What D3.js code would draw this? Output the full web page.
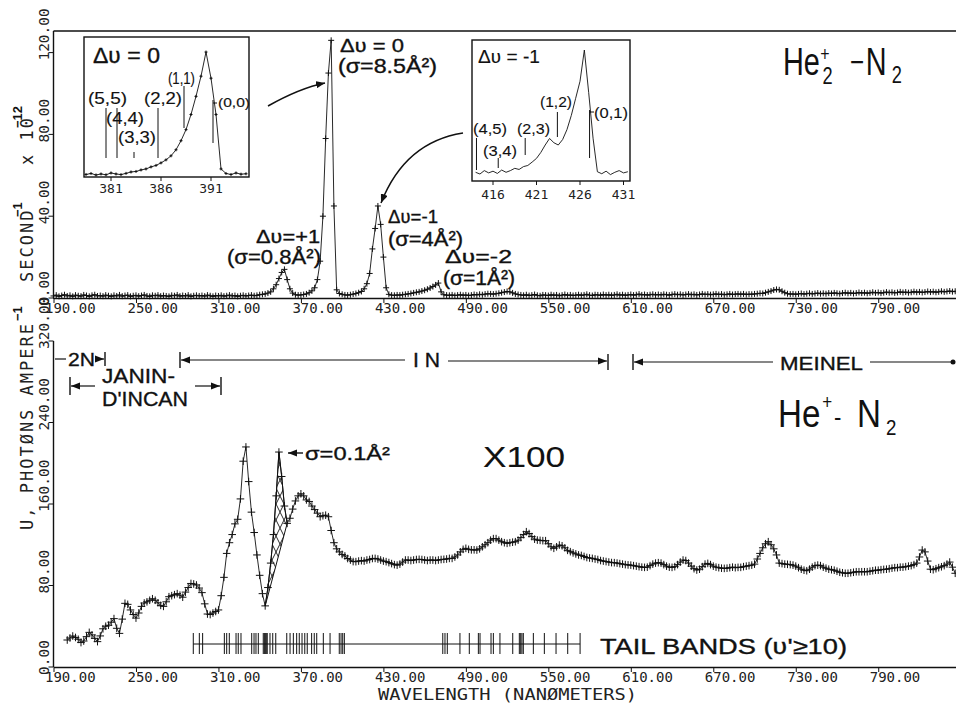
<!DOCTYPE html>
<html>
<head>
<meta charset="utf-8">
<script src="https://cdn.jsdelivr.net/npm/d3@7/dist/d3.min.js"></script>
<style>
  body { margin: 0; background: #fff; }
  svg { display: block; }
  .plt { font-family: "DejaVu Sans Mono", monospace; fill: #222; }
  .lab { font-family: "Liberation Sans", Arial, sans-serif; fill: #111; stroke: #111; stroke-width: 0.35; }
  .big { font-family: "Liberation Sans", Arial, sans-serif; fill: #111; }
</style>
</head>
<body>
<svg id="chart" width="956" height="704"></svg>
<script>
// sampling of the two spectra (nm)
var topStart = 190, botStart = 200, step = 2;

// He2+ - N2, photons/ampere/second x10^-12
var topVals = [
  1.0,1.4,0.8,1.2,1.6,1.0,1.3,0.8,1.4,1.1,
  0.9,1.5,1.2,0.8,1.3,1.6,1.0,1.2,0.9,1.4,
  1.1,0.8,1.3,1.0,1.5,0.9,1.2,1.4,0.8,1.1,
  1.3,0.9,1.2,1.5,1.0,0.8,1.3,1.1,1.4,0.9,
  1.2,1.0,0.8,1.3,1.1,1.5,0.9,1.2,1.0,1.4,
  0.8,1.1,1.3,1.0,1.2,0.9,1.4,1.1,0.8,1.2,
  1.0,1.3,0.9,1.1,1.4,1.0,1.2,0.8,1.1,1.3,
  1.0,1.2,1.4,1.1,1.3,1.6,1.8,2.0,2.4,3.0,
  4.5,6.5,9.5,12.5,14.0,9.0,4.5,2.4,1.6,1.4,
  1.5,1.7,2.0,2.6,3.5,5.0,9.0,18,40,78,
  110,126,45,4.0,2.2,1.8,1.5,1.4,1.6,1.9,
  2.2,2.6,3.2,4.5,7.0,12,24,34,45,36,
  20,5.0,1.8,1.4,1.3,1.5,1.4,1.6,1.8,2.0,
  2.2,2.5,2.8,3.0,3.4,3.8,4.3,4.9,5.6,6.4,
  7.3,3.0,1.6,1.4,1.3,1.5,1.2,1.4,1.6,1.3,
  1.5,1.2,1.4,1.7,1.5,1.8,1.6,1.9,2.1,2.0,
  1.9,2.1,2.3,2.6,2.9,3.2,3.0,2.5,2.0,1.7,
  1.5,1.3,1.6,1.2,1.4,1.7,1.3,1.1,1.5,1.4,
  1.2,1.6,1.3,1.5,1.1,1.4,1.7,1.3,1.5,1.2,
  1.4,1.6,1.3,1.5,1.8,1.4,1.2,1.6,1.5,1.3,
  1.7,1.4,1.6,1.3,1.5,1.8,1.4,1.6,1.3,1.5,
  1.7,1.4,1.6,1.9,1.5,1.7,1.4,1.6,1.8,1.5,
  1.7,1.5,1.8,1.6,1.4,1.7,1.9,1.6,1.8,1.5,
  1.7,1.9,1.6,1.8,1.5,1.7,2.0,1.7,1.9,1.6,
  1.8,2.0,1.7,1.9,1.6,1.8,2.0,1.7,1.9,2.0,
  1.8,2.0,1.7,1.9,1.8,2.0,2.1,2.3,2.2,2.6,
  3.0,3.4,3.9,4.2,4.0,3.3,2.6,2.1,1.9,2.0,
  1.8,2.0,2.2,1.9,2.1,2.3,2.0,2.2,2.4,2.1,
  2.3,2.1,2.4,2.2,2.5,2.3,2.1,2.4,2.6,2.3,
  2.5,2.2,2.4,2.7,2.4,2.6,2.3,2.5,2.8,2.5,
  2.7,2.4,2.6,2.9,2.6,2.8,2.5,2.7,3.0,2.7,
  2.9,2.6,2.8,3.1,2.8,3.0,2.7,2.9,3.2,2.9,
  3.1,2.8,3.0,3.3,3.0,3.2,3.4,3.1,3.3
];

// He+ - N2, x100
var botVals = [
  26.5,28.5,30.4,29,27.2,24,25.5,29.8,34,31.5,
  28.1,24.9,30.5,37.5,40,41,44,47.5,38,33,
  47,62.5,61.5,56,51.5,48,53,59.5,62.8,64,
  65.5,67,65.5,63,60.5,59.5,64,69,70,71,
  72,70.5,68.5,73.5,78,82,81.5,80.5,77.5,73,
  62,52,51.5,53,54.5,56,70,88,111.5,122,
  130,140.5,145,165,202,216,182,152,132,110,
  90,72,60,78,102,130,168,211,187,158,
  141,146,155,163,168,170,168,164,162.5,158,
  154.5,151,147.5,148.5,149,147.5,134,122,116,113,
  110.5,109,106.5,105,103.5,103.4,104,104.4,104,105,
  105.5,106.5,106.6,106,105,104,103.4,102.5,101.5,100.5,
  100,101,103,105,105,104.5,105,105.5,105.7,105.5,
  105,104.5,105,105,104.5,105,105.5,105.7,106,106.6,
  106.6,108,110,113,115.5,116.5,115.5,115,115,114.8,
  116,118,120,122,124.5,126,126,124.5,123,122,
  121.4,122,122.5,123,124.5,127,130,132.8,131,128,
  125.5,124.6,124.3,124,124,121,118,116.5,118,119.7,
  119,117,114.5,113.2,112,111,110,109.5,108.5,107.5,
  107,106.6,106,105.5,104.5,104,103.5,103,102.5,102.4,
  102,101.5,101,100.5,100.2,100,99.5,99,98.5,98,
  97.8,98,99.5,101,102,102.4,102,100.5,99,98,
  97.8,98.5,100.5,103,105,104.5,102,99,96.5,95.2,
  96,98.5,101,101.7,100.5,99,98,97.5,97,96.8,
  97,97.5,98,97.5,97.8,97.8,98.5,99,99.5,100,
  101,106,111.5,117,121,123,120,116,110,102,
  101.5,101,100.8,100.5,100,99,97.5,96,95,94.5,
  96,98,99.5,100,99.5,98,97,96,95.5,95,
  94,93,92.5,92,92,92.5,93,93.5,93.5,93.5,
  93.5,93.5,94,94.5,95,95,95.5,95.8,96,96.5,
  97,97.5,97.5,98,98,98.5,99,99.5,100.5,102,
  108,114.8,113,104,96,95.5,96.5,97.5,98.4,99.5,
  101,103,98,92
];

// insets, sampled every 0.5 nm
var ins1Start = 378.5, ins2Start = 414, insStep = 0.5;
var ins1Vals = [
  2.5,3.5,2.0,3.0,2.2,4.0,3.0,2.4,3.6,5.0,
  5.5,7.0,8.0,10,11.5,14,17,21,27,36,
  47,62,80,100,124,98,62,8,3.5,2.5,
  4.0,2.8,3.2
];
var ins2Vals = [
  2.0,1.4,2.6,1.8,2.4,1.6,2.8,2.0,2.6,3.4,
  3.0,4.0,4.4,5.6,6.9,9.0,11.6,13.9,12.4,11.6,
  13.5,17,22,28,34,45,30,14,2.2,1.5,
  2.4,1.2,2.0,2.6,1.8,2.2
];

// band heads marked in the insets
var ins1Heads = [380.5, 381.6, 383.3, 385.7, 388.3, 391.2];
var ins1HeadNames = ["(5,5)", "(4,4)", "(3,3)", "(2,2)", "(1,1)", "(0,0)"];
var ins2Heads = [414.1, 416.6, 419.7, 423.4, 427.1];
var ins2HeadNames = ["(4,5)", "(3,4)", "(2,3)", "(1,2)", "(0,1)"];

// tail bands (v' >= 10), nm
var tailBands = [291.7,296.1,298.5,314.3,316,317.9,322.8,324.4,326.4,334.2,
  335.9,337.3,339,342.6,343.4,344.1,344.8,345.5,347.5,349.5,351.7,359.7,
  362.1,364.5,366.9,368.8,370.8,372.8,374.6,377.8,379.7,381.5,386.3,391.2,
  397.9,399.2,400.4,401.6,473.2,474.8,476.5,485.7,492.5,499.1,500.3,508.3,
  510,514.8,524.1,528.9,529.9,530.8,531.8,539.1,547.1,555.6,564.1,573.1];

var xTicks = [190, 250, 310, 370, 430, 490, 550, 610, 670, 730, 790];
var topYTicks = [0, 40, 80, 120];
var botYTicks = [0, 80, 160, 240, 320];
var ins1Ticks = [381, 386, 391];
var ins2Ticks = [416, 421, 426, 431];
var hatchRange = [344, 360];

var svg = d3.select("#chart");
svg.append("rect").attr("width", 956).attr("height", 704).attr("fill", "#fff");

var defs = svg.append("defs");
defs.append("marker")
    .attr("id", "ah")
    .attr("viewBox", "0 0 10 8")
    .attr("refX", 10).attr("refY", 4)
    .attr("markerWidth", 9).attr("markerHeight", 7.2)
    .attr("markerUnits", "userSpaceOnUse")
    .attr("orient", "auto")
  .append("path").attr("d", "M0,0L10,4L0,8z").attr("fill", "#111");
var pat = defs.append("pattern")
    .attr("id", "xhatch")
    .attr("patternUnits", "userSpaceOnUse")
    .attr("width", 8).attr("height", 16);
pat.append("path").attr("d", "M0,0L8,16M8,0L0,16M-4,8L0,16M12,8L8,16")
    .attr("stroke", "#111").attr("stroke-width", 0.9);

function series(start, st, vals) {
  return vals.map(function(v, i) { return {w: start + i * st, v: v}; });
}
var topData = series(topStart, step, topVals);
var botData = series(botStart, step, botVals);
var ins1Data = series(ins1Start, insStep, ins1Vals);
var ins2Data = series(ins2Start, insStep, ins2Vals);

var x = d3.scaleLinear().domain([190, 850]).range([53.5, 960.7]);
var yTop = d3.scaleLinear().domain([0, 120]).range([298, 52.6]);
var yBot = d3.scaleLinear().domain([0, 320]).range([667, 341]);

function plus(px, py, s) {
  return "M" + (px - s) + "," + py + "h" + (2 * s) + "M" + px + "," + (py - s) + "v" + (2 * s);
}

function drawCurve(g, data, xs, ys, size, width) {
  var line = d3.line().x(function(d) { return xs(d.w); }).y(function(d) { return ys(d.v); });
  g.append("path").attr("d", line(data)).attr("fill", "none")
    .attr("stroke", "#111").attr("stroke-width", width);
  if (size > 0) {
    g.append("path")
      .attr("d", data.map(function(d) { return plus(xs(d.w), ys(d.v), size); }).join(""))
      .attr("fill", "none").attr("stroke", "#111").attr("stroke-width", 1);
  }
}

function label(g, px, py, str, size, w, anchor, cls) {
  var t = g.append("text").attr("class", cls || "lab")
    .attr("x", px).attr("y", py)
    .attr("font-size", size)
    .attr("text-anchor", anchor || "start")
    .text(str);
  if (w) t.attr("textLength", w).attr("lengthAdjust", "spacingAndGlyphs");
  return t;
}

function seg(g, x1, y1, x2, y2, w, arrow) {
  var l = g.append("line").attr("x1", x1).attr("y1", y1).attr("x2", x2).attr("y2", y2)
    .attr("stroke", "#111").attr("stroke-width", w || 1.2);
  if (arrow) l.attr("marker-end", "url(#ah)");
  return l;
}

// chemical formula built from pieces inside one text, condensed
function formula(px, py, sx, pieces) {
  var t = svg.append("text").attr("class", "big")
    .attr("transform", "translate(" + px + "," + py + ") scale(" + sx + ",1)");
  pieces.forEach(function(p) {
    t.append("tspan").attr("x", p[0]).attr("y", p[1]).attr("font-size", p[2]).text(p[3]);
  });
}

// ---- x axes
function xAxis(yPos) {
  var g = svg.append("g").attr("transform", "translate(0," + yPos + ")")
    .call(d3.axisBottom(x).tickValues(xTicks).tickSize(5).tickSizeOuter(0)
      .tickFormat(d3.format(".2f")));
  g.select(".domain").attr("stroke", "#111").attr("stroke-width", 1.4);
  g.selectAll(".tick line").attr("stroke", "#111");
  g.selectAll(".tick text").attr("class", "plt")
    .attr("font-size", 14).attr("text-anchor", "start")
    .attr("x", -9).attr("y", 5).attr("dy", "0.71em")
    .attr("font-family", null).attr("fill", "#222");
  return g;
}
xAxis(298);
xAxis(667);

// ---- y axes (ticks + rotated labels)
function yAxis(ys, ticks, top) {
  seg(svg, 53.5, ys.range()[0], 53.5, top, 1.4);
  ticks.forEach(function(t) {
    seg(svg, 48.5, ys(t), 53.5, ys(t), 1);
    svg.append("text").attr("class", "plt").attr("font-size", 14.5)
      .attr("transform", "translate(49," + (ys(t) + 8) + ") rotate(-90)")
      .text(d3.format(".2f")(t));
  });
}
yAxis(yTop, topYTicks, 31);
yAxis(yBot, botYTicks, 341);
seg(svg, 53.5, 31, 956, 31, 1.4);

// shared y-axis title
var yt = svg.append("g").attr("transform", "translate(33,530) rotate(-90)");
function ytPiece(pos, str, sup) {
  var t = yt.append("text").attr("x", pos).attr("y", sup ? -11 : 0).text(str);
  if (sup) {
    t.attr("font-family", "Liberation Sans, Arial, sans-serif").attr("font-weight", "bold")
      .attr("font-size", 13).attr("fill", "#111");
  } else {
    t.attr("class", "plt").attr("font-size", 17).attr("letter-spacing", 2);
  }
}
ytPiece(0, "U, PHOTØNS AMPERE", false);
ytPiece(209, "−1", true);
ytPiece(248, "SECOND", false);
ytPiece(313, "−1", true);
ytPiece(365, "x 10", false);
ytPiece(402, "−12", true);

label(svg, 378, 700, "WAVELENGTH (NANØMETERS)", 15.5, 259, "start", "plt");

// ---- curves
drawCurve(svg.append("g"), topData, x, yTop, 3, 0.9);

var hatchPts = botData.filter(function(d) { return d.w >= hatchRange[0] && d.w <= hatchRange[1]; });
svg.append("path")
  .attr("d", d3.line().x(function(d) { return x(d.w); }).y(function(d) { return yBot(d.v); })(hatchPts) + "Z")
  .attr("fill", "url(#xhatch)").attr("stroke", "#111").attr("stroke-width", 1);
drawCurve(svg.append("g"), botData, x, yBot, 3.8, 0.9);

// ---- insets
function inset(frame, data, xs, ys, ticks, tickBase, mark) {
  var g = svg.append("g");
  var id = "clip" + frame[0];
  defs.append("clipPath").attr("id", id).append("rect")
    .attr("x", frame[0]).attr("y", frame[1])
    .attr("width", frame[2] - frame[0]).attr("height", frame[3] - frame[1]);
  g.append("rect").attr("x", frame[0]).attr("y", frame[1])
    .attr("width", frame[2] - frame[0]).attr("height", frame[3] - frame[1])
    .attr("fill", "#fff").attr("stroke", "#111").attr("stroke-width", 1.4);
  drawCurve(g.append("g").attr("clip-path", "url(#" + id + ")"), data, xs, ys, mark, 0.9);
  ticks.forEach(function(t) {
    seg(g, xs(t), frame[3], xs(t), frame[3] + 4, 1);
    label(g, xs(t), tickBase, String(t), 13, null, "middle", "plt");
  });
  return g;
}

var xi1 = d3.scaleLinear().domain([381, 391]).range([111, 211]);
var yi1 = d3.scaleLinear().domain([0, 126]).range([177, 50]);
var g1 = inset([84, 37, 249, 177], ins1Data, xi1, yi1, ins1Ticks, 193, 1.5);

var xi2 = d3.scaleLinear().domain([416, 431]).range([493, 623.5]);
var yi2 = d3.scaleLinear().domain([0, 45]).range([178, 50]);
var g2 = inset([472, 40, 630, 181], ins2Data, xi2, yi2, ins2Ticks, 199, 0);

// band-head markers (vertical extents, label spots)
var ins1Spots = [[108, 158, 88, 104, 39], [108, 158, 106, 124, 38], [152, 158, 118, 143, 38],
                 [108, 158, 144, 104, 38], [86, 128, 168, 84, 27], [100, 143, 218, 107, 32]];
ins1Heads.forEach(function(h, i) {
  var s = ins1Spots[i];
  seg(g1, xi1(h), s[0], xi1(h), s[1], 1);
  label(g1, s[2], s[3], ins1HeadNames[i], i === 5 ? 12 : 16, s[4]).style("stroke-width", 0.15);
});
seg(g1, xi1(ins1Heads[5]), 103, 217, 103, 1);
label(g1, 93, 63, "Δʋ = 0", 22, 67);

var ins2Spots = [[138, 170, 473, 134, 34], [158, 168, 483, 156, 34], [138, 155, 517, 134, 33],
                 [112, 137, 540, 107, 32], [110, 158, 594, 118, 34]];
ins2Heads.forEach(function(h, i) {
  var s = ins2Spots[i];
  seg(g2, xi2(h), s[0], xi2(h), s[1], 1);
  label(g2, s[2], s[3], ins2HeadNames[i], 14, s[4]).style("stroke-width", 0.1);
});
seg(g2, xi2(ins2Heads[4]), 112, 594, 112, 1);
label(g2, 478, 63, "Δʋ = -1", 18, 62).style("stroke-width", 0.15);

// ---- top panel annotations
var ann = svg.append("g");
label(ann, 340, 52, "Δʋ = 0", 19, 64);
label(ann, 338, 73, "(σ=8.5Å²)", 20, 99);
label(ann, 320, 243, "Δʋ=+1", 19, 64, "end");
label(ann, 321, 264, "(σ=0.8Å²)", 20, 94, "end");
label(ann, 388, 223, "Δʋ=-1", 19, 50);
label(ann, 388, 246, "(σ=4Å²)", 20, 75);
label(ann, 445, 263, "Δʋ=-2", 19, 67);
label(ann, 443, 285, "(σ=1Å²)", 20, 72);
ann.append("path").attr("d", "M268,106Q300,88 325,83").attr("fill", "none")
  .attr("stroke", "#111").attr("stroke-width", 1.5).attr("marker-end", "url(#ah)");
ann.append("path").attr("d", "M463,133Q405,142 381,203").attr("fill", "none")
  .attr("stroke", "#111").attr("stroke-width", 1.5).attr("marker-end", "url(#ah)");

// He2+ - N2  (x positions in condensed units)
formula(783, 75, 0.76, [
  [0, 0, 38, "He"], [49, -14, 21, "+"], [52, 9, 24, "2"],
  [88, -2, 32, "−"], [109, 0, 38, "N"], [143, 8, 24, "2"]
]);

// ---- bottom panel annotations
var bn = svg.append("g");
seg(bn, 55, 359, 66, 359, 1.2);
label(bn, 68, 366, "2N", 19, 27);
seg(bn, 95, 359, 104, 359, 1.2, true);
seg(bn, 105, 352, 105, 366, 1.4);

label(bn, 102, 383, "JANIN-", 21, 73);
label(bn, 102, 406, "D'INCAN", 21, 86);
seg(bn, 70, 377, 70, 395, 1.4);
seg(bn, 95, 386, 71, 386, 1.2, true);
seg(bn, 195, 386, 220, 386, 1.2, true);
seg(bn, 221, 377, 221, 395, 1.4);

seg(bn, 180, 352, 180, 368, 1.4);
seg(bn, 405, 360, 181, 360, 1.2, true);
label(bn, 413, 367, "I N", 20, 27);
seg(bn, 448, 361, 607, 361, 1.2, true);
seg(bn, 608, 354, 608, 370, 1.4);

seg(bn, 633, 354, 633, 370, 1.4);
seg(bn, 773, 362, 634, 362, 1.2, true);
label(bn, 780, 370, "MEINEL", 19, 83);
seg(bn, 870, 362, 953, 362, 1.2);
bn.append("circle").attr("cx", 953).attr("cy", 362).attr("r", 2.5).attr("fill", "#111");

// He+ - N2
formula(778, 427, 0.85, [
  [0, 0, 39, "He"], [52, -18, 20, "+"], [66, -1, 26, "-"],
  [93, 0, 39, "N"], [127, 8, 22, "2"]
]);

label(bn, 483, 467, "X100", 29, 82).style("stroke-width", 0.1);

seg(bn, 303, 453, 288, 453, 1.4, true);
label(bn, 305, 460, "σ=0.1Å²", 19, 85);

// tail bands
var tb = svg.append("g");
seg(tb, x(tailBands[0]), 644, x(tailBands[tailBands.length - 1]), 644, 1);
tailBands.forEach(function(b) {
  seg(tb, x(b), 633, x(b), 654, 1);
});
label(tb, 600, 654, "TAIL BANDS (ʋ'≥10)", 22, 247);
</script>
</body>
</html>
